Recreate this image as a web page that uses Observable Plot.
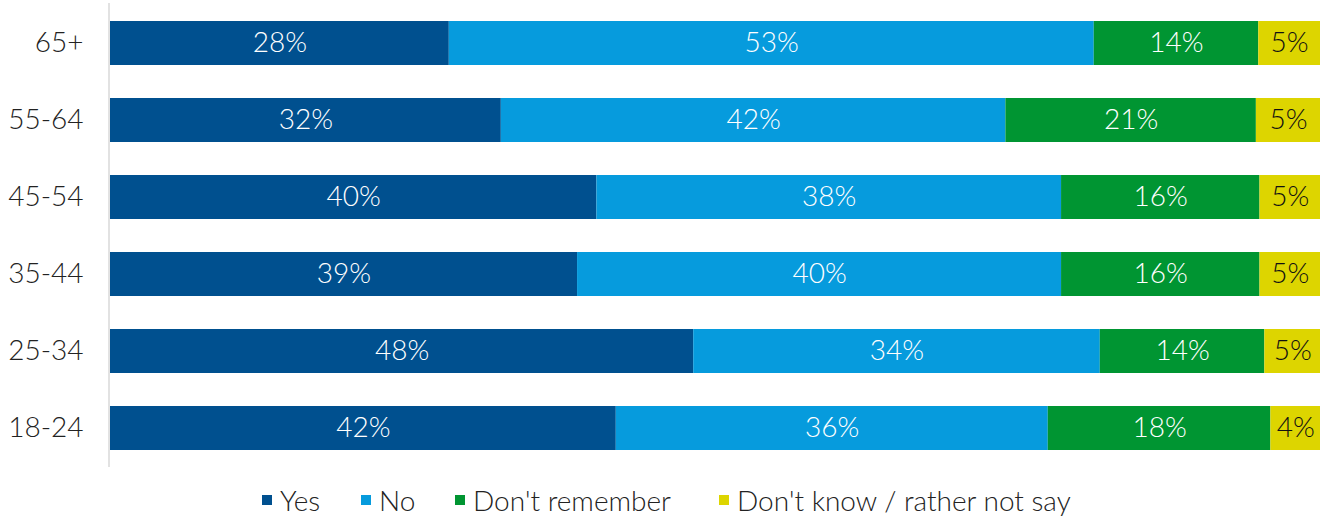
<!DOCTYPE html>
<html>
<head>
<meta charset="utf-8">
<script src="https://cdn.jsdelivr.net/npm/d3@7"></script>
<script src="https://cdn.jsdelivr.net/npm/@observablehq/plot@0.6"></script>
<style>
  html, body { margin: 0; padding: 0; background: #fff; }
  body { width: 1325px; height: 517px; overflow: hidden; font-family: Lato, "Liberation Sans", sans-serif; font-weight: 300; }
  #legend { position: relative; height: 47px; }
  .item { position: absolute; top: 0; height: 28px; line-height: 28px; display: flex; align-items: center; font-size: 28px; color: #222; white-space: nowrap; }
  .sw { width: 10px; height: 10px; margin-right: 8px; }
</style>
</head>
<body>
<div id="chart"></div>
<div id="legend"></div>
<script>
const ages = ["65+", "55-64", "45-54", "35-44", "25-34", "18-24"];
const series = ["Yes", "No", "Don't remember", "Don't know / rather not say"];
const colors = ["#00508f", "#069bdd", "#009532", "#ddd500"];
const yes = [28.0, 32.3, 40.2, 38.6, 48.2, 41.8];
const no = [53.3, 41.7, 38.4, 40.0, 33.6, 35.7];
const dontRemember = [13.6, 20.7, 16.4, 16.4, 13.6, 18.4];
const dontKnow = [5.1, 5.3, 5.0, 5.0, 4.6, 4.1];

const seriesValues = [yes, no, dontRemember, dontKnow];
const data = [];
ages.forEach((age, i) => {
  series.forEach((s, j) => data.push({age, series: s, value: seriesValues[j][i]}));
});

const lastSeries = series[series.length - 1];
const pct = d => Math.round(d.value) + "%";

const chart = Plot.plot({
  width: 1325,
  height: 470,
  marginLeft: 110,
  marginRight: 5,
  marginTop: 3,
  marginBottom: 3,
  style: {fontFamily: "Lato, 'Liberation Sans', sans-serif", fontWeight: 300, background: "#fff"},
  x: {domain: [0, 100], axis: null},
  y: {domain: ages, paddingInner: 0.43, paddingOuter: 0.215, axis: null},
  color: {domain: series, range: colors},
  marks: [
    Plot.barX(data, Plot.stackX({x: "value", y: "age", fill: "series"})),
    Plot.text(data, Plot.stackX({x: "value", y: "age", z: "series",
      text: d => d.series !== lastSeries ? pct(d) : "", fill: "white", fontSize: 28})),
    Plot.text(data, Plot.stackX({x: "value", y: "age", z: "series",
      text: d => d.series === lastSeries ? pct(d) : "", fill: "#111", fontSize: 28})),
    Plot.ruleX([0], {stroke: "#d9d9d9", strokeWidth: 1.5, dx: -1.5}),
    Plot.axisY({tickSize: 0, tickPadding: 27, fontSize: 28, color: "#222", label: null})
  ]
});
document.getElementById("chart").appendChild(chart);

// legend
const legend = document.getElementById("legend");
const lefts = [262, 361, 455, 719];
series.forEach((s, i) => {
  const item = document.createElement("div");
  item.className = "item";
  item.style.left = lefts[i] + "px";
  item.style.top = "16px";
  const sw = document.createElement("span");
  sw.className = "sw";
  sw.style.background = colors[i];
  const t = document.createElement("span");
  t.textContent = s;
  item.appendChild(sw);
  item.appendChild(t);
  legend.appendChild(item);
});
</script>
</body>
</html>
